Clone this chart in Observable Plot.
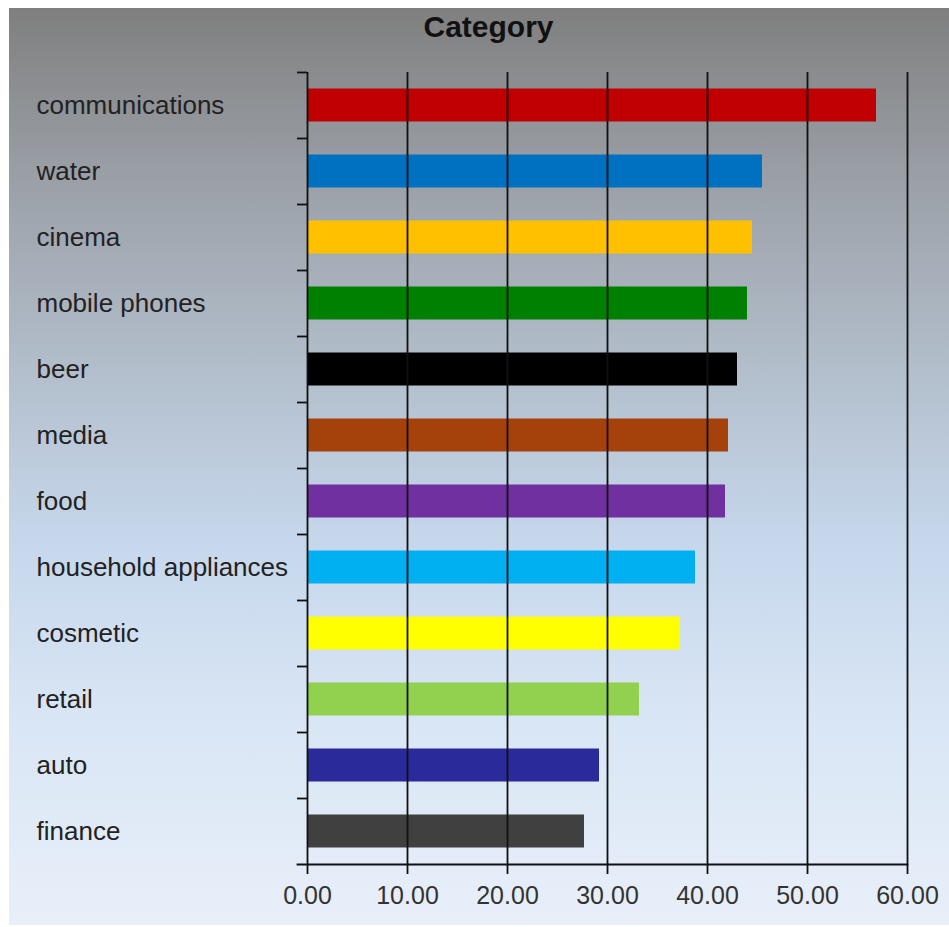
<!DOCTYPE html>
<html>
<head>
<meta charset="utf-8">
<script src="https://cdn.jsdelivr.net/npm/d3@7"></script>
<script src="https://cdn.jsdelivr.net/npm/@observablehq/plot@0.6"></script>
<style>
  html, body { margin: 0; padding: 0; background: #ffffff; }
  #wrap { position: relative; width: 949px; height: 927px; overflow: hidden; }
  #bg { position: absolute; left: 9px; top: 8px; width: 940px; height: 917px;
        background: linear-gradient(to bottom, #7f7f7f 0%, #9a9fa6 18%, #b3bfcc 40%, #c6d7ec 58%, #d9e6f5 78%, #e8eff9 100%); }
  #chart { position: absolute; left: 0; top: 0; }
</style>
</head>
<body>
<div id="wrap"><div id="bg"></div><div id="chart"></div></div>
<script>
const categories = ["communications", "water", "cinema", "mobile phones", "beer", "media", "food",
  "household appliances", "cosmetic", "retail", "auto", "finance"];
const values = [56.9, 45.5, 44.5, 44.0, 43.0, 42.1, 41.8, 38.8, 37.3, 33.2, 29.2, 27.7];
const colors = ["#c00000", "#0070c0", "#ffc000", "#008000", "#000000", "#a5410a", "#7030a0",
  "#00b0f0", "#ffff00", "#92d050", "#2a2a9a", "#404040"];
const xTicks = [0, 10, 20, 30, 40, 50, 60];
const title = "Category";

const data = categories.map((c, i) => ({category: c, value: values[i], color: colors[i]}));

const chart = Plot.plot({
  width: 949,
  height: 927,
  marginTop: 72,
  marginBottom: 63,
  marginLeft: 307,
  marginRight: 42,
  style: {background: "transparent", fontFamily: "'Liberation Sans', Arial, sans-serif", color: "#222"},
  x: {domain: [0, 60], ticks: xTicks},
  y: {domain: categories, padding: 0, axis: null},
  color: {type: "identity"},
  marks: [
    Plot.barX(data, {x: "value", y: "category", fill: "color", insetTop: 16.5, insetBottom: 16.5}),
    Plot.gridX(xTicks, {stroke: "#111", strokeOpacity: 1, strokeWidth: 1.8}),
    Plot.axisY({tickSize: 10, tickFormat: () => "", label: null, dy: -33, stroke: "#111", strokeWidth: 1.8}),
    Plot.frame({anchor: "bottom", insetLeft: -10, stroke: "#111", strokeWidth: 1.8}),
    Plot.axisX({ticks: xTicks, tickFormat: d3.format(".2f"), tickSize: 10, tickPadding: 12,
      fontSize: 25, stroke: "#111", strokeWidth: 1.8, fill: "#333", label: null}),
    Plot.text(data, {y: "category", text: "category", frameAnchor: "left", textAnchor: "start",
      dx: -271, fontSize: 26, fill: "#222"}),
    Plot.text([title], {text: d => d, frameAnchor: "top", dx: -119, dy: -45, lineAnchor: "middle",
      fontSize: 30, fontWeight: "bold", fill: "#111"})
  ]
});
document.getElementById("chart").appendChild(chart);
</script>
</body>
</html>
